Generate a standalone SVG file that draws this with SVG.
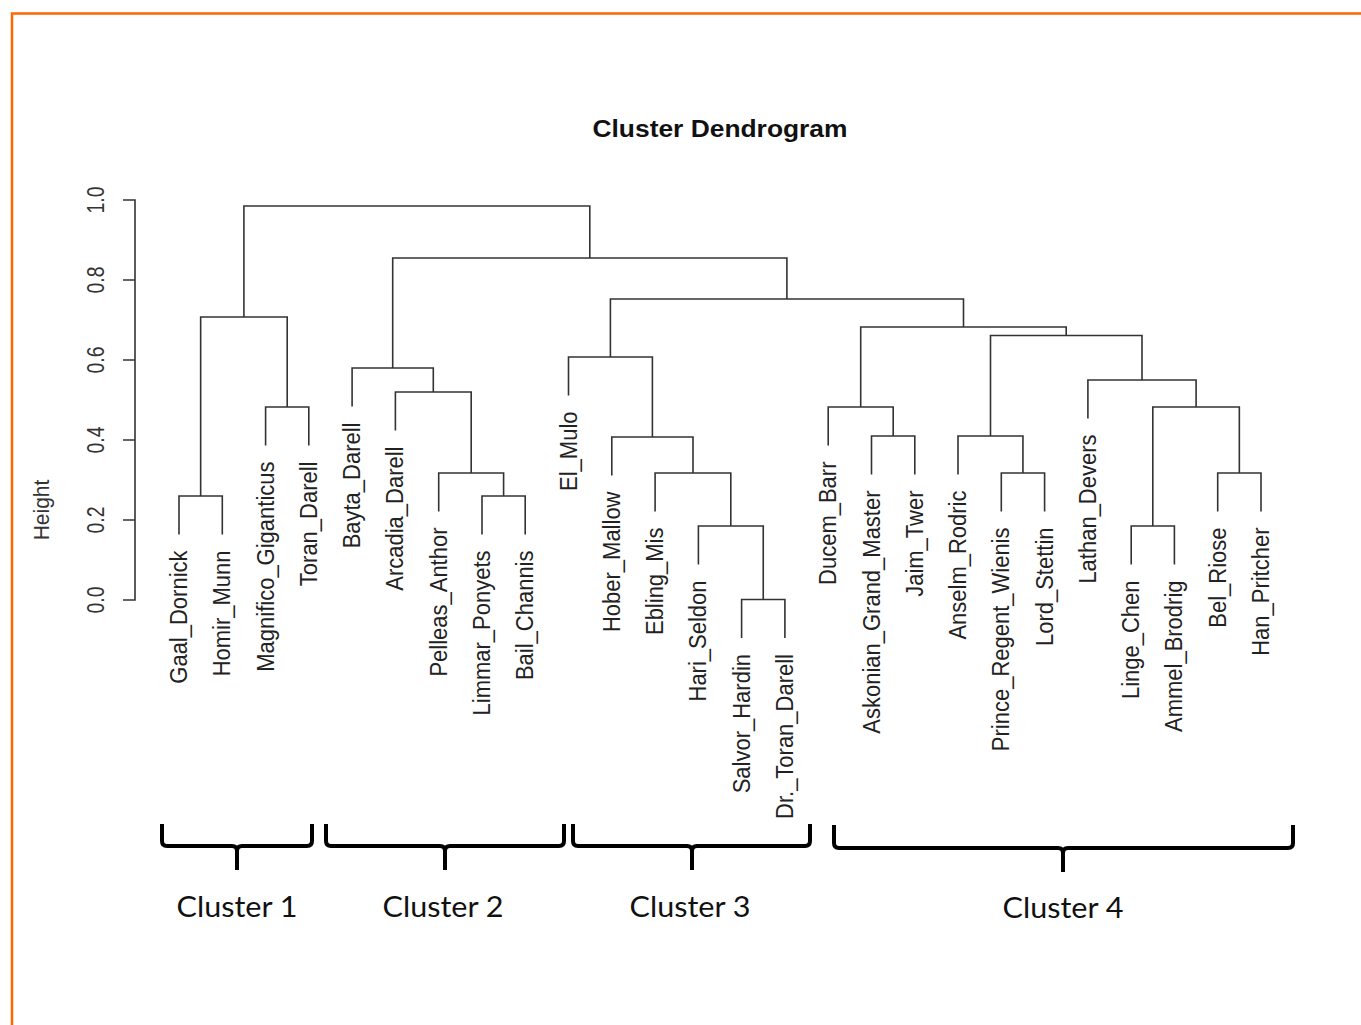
<svg xmlns="http://www.w3.org/2000/svg" width="1361" height="1025" viewBox="0 0 1361 1025">
<style>
.frame{stroke:#FF6600;stroke-width:2.5;fill:none}
.ln{stroke:#333;stroke-width:1.6;fill:none}
.lbl{font-family:"Liberation Sans",Arial,sans-serif;font-size:22px;fill:#222;text-anchor:end}
.tick{font-family:"Liberation Sans",Arial,sans-serif;font-size:19.5px;fill:#333;text-anchor:middle}
.title{font-family:"Liberation Sans",Arial,sans-serif;font-size:23.5px;font-weight:bold;fill:#111;text-anchor:middle}
.brace{stroke:#000;stroke-width:4;fill:none;stroke-linejoin:round}
.cl{font-family:Lato,"Open Sans",sans-serif;font-size:29px;fill:#111;text-anchor:middle}
</style>
<rect width="1361" height="1025" fill="#fff"/>
<path class="frame" d="M12,1025 V13.5 H1361"/>
<text class="title" x="720" y="137" textLength="255" lengthAdjust="spacingAndGlyphs">Cluster Dendrogram</text>
<g id="axis">
<path class="ln" d="M123,200 H135 V600 H123 M123,280 H135 M123,360 H135 M123,440 H135 M123,520 H135"/>
<text class="tick" transform="translate(103.5,200) scale(1.2,1) rotate(-90)">1.0</text>
<text class="tick" transform="translate(103.5,280) scale(1.2,1) rotate(-90)">0.8</text>
<text class="tick" transform="translate(103.5,360) scale(1.2,1) rotate(-90)">0.6</text>
<text class="tick" transform="translate(103.5,440) scale(1.2,1) rotate(-90)">0.4</text>
<text class="tick" transform="translate(103.5,520) scale(1.2,1) rotate(-90)">0.2</text>
<text class="tick" transform="translate(103.5,600) scale(1.2,1) rotate(-90)">0.0</text>
<text class="tick" style="font-size:21px" transform="translate(49,510) scale(1.05,1) rotate(-90)">Height</text>
</g>
<g id="connectors">
<path class="ln" d="M179,534.5 V496 H222.3 V534.5"/>
<path class="ln" d="M265.6,445.5 V407 H308.8 V445.5"/>
<path class="ln" d="M200.65,496 V317 H287.2 V407"/>
<path class="ln" d="M482,534.5 V496 H525.2 V534.5"/>
<path class="ln" d="M438.7,511.5 V473 H503.6 V496"/>
<path class="ln" d="M395.4,430.5 V392 H471.2 V473"/>
<path class="ln" d="M352.1,406.5 V368 H433.3 V392"/>
<path class="ln" d="M741.6,638 V599.5 H784.9 V638"/>
<path class="ln" d="M698.4,564.5 V526 H763.25 V599.5"/>
<path class="ln" d="M655.1,511.5 V473 H730.8 V526"/>
<path class="ln" d="M611.8,475.5 V437 H693 V473"/>
<path class="ln" d="M568.5,395.5 V357 H652.4 V437"/>
<path class="ln" d="M871.5,474.5 V436 H914.8 V474.5"/>
<path class="ln" d="M828.2,445.5 V407 H893.2 V436"/>
<path class="ln" d="M1001.3,511.5 V473 H1044.6 V511.5"/>
<path class="ln" d="M958,474.5 V436 H1022.95 V473"/>
<path class="ln" d="M1131.2,564.5 V526 H1174.4 V564.5"/>
<path class="ln" d="M1217.7,511.5 V473 H1261 V511.5"/>
<path class="ln" d="M1152.8,526 V407 H1239.35 V473"/>
<path class="ln" d="M1087.9,418.5 V380 H1196.1 V407"/>
<path class="ln" d="M990.5,436 V335.5 H1142 V380"/>
<path class="ln" d="M860.7,407 V327 H1066.2 V335.5"/>
<path class="ln" d="M610.4,357 V299 H963.5 V327"/>
<path class="ln" d="M392.7,368 V258 H786.9 V299"/>
<path class="ln" d="M243.9,317 V206 H589.8 V258"/>
</g>
<g id="leaf-gaal-dornick"><text class="lbl" transform="translate(187,550.5) scale(1.1,1) rotate(-90)">Gaal_Dornick</text></g>
<g id="leaf-homir-munn"><text class="lbl" transform="translate(230.3,550.5) scale(1.1,1) rotate(-90)">Homir_Munn</text></g>
<g id="leaf-magnifico-giganticus"><text class="lbl" transform="translate(273.6,461.5) scale(1.1,1) rotate(-90)">Magnifico_Giganticus</text></g>
<g id="leaf-toran-darell"><text class="lbl" transform="translate(316.8,461.5) scale(1.1,1) rotate(-90)">Toran_Darell</text></g>
<g id="leaf-bayta-darell"><text class="lbl" transform="translate(360.1,422.5) scale(1.1,1) rotate(-90)">Bayta_Darell</text></g>
<g id="leaf-arcadia-darell"><text class="lbl" transform="translate(403.4,446.5) scale(1.1,1) rotate(-90)">Arcadia_Darell</text></g>
<g id="leaf-pelleas-anthor"><text class="lbl" transform="translate(446.7,527.5) scale(1.1,1) rotate(-90)">Pelleas_Anthor</text></g>
<g id="leaf-limmar-ponyets"><text class="lbl" transform="translate(490,550.5) scale(1.1,1) rotate(-90)">Limmar_Ponyets</text></g>
<g id="leaf-bail-channis"><text class="lbl" transform="translate(533.2,550.5) scale(1.1,1) rotate(-90)">Bail_Channis</text></g>
<g id="leaf-el-mulo"><text class="lbl" transform="translate(576.5,411.5) scale(1.1,1) rotate(-90)">El_Mulo</text></g>
<g id="leaf-hober-mallow"><text class="lbl" transform="translate(619.8,491.5) scale(1.1,1) rotate(-90)">Hober_Mallow</text></g>
<g id="leaf-ebling-mis"><text class="lbl" transform="translate(663.1,527.5) scale(1.1,1) rotate(-90)">Ebling_Mis</text></g>
<g id="leaf-hari-seldon"><text class="lbl" transform="translate(706.4,580.5) scale(1.1,1) rotate(-90)">Hari_Seldon</text></g>
<g id="leaf-salvor-hardin"><text class="lbl" transform="translate(749.6,654) scale(1.1,1) rotate(-90)">Salvor_Hardin</text></g>
<g id="leaf-dr-toran-darell"><text class="lbl" transform="translate(792.9,654) scale(1.1,1) rotate(-90)">Dr._Toran_Darell</text></g>
<g id="leaf-ducem-barr"><text class="lbl" transform="translate(836.2,461.5) scale(1.1,1) rotate(-90)">Ducem_Barr</text></g>
<g id="leaf-askonian-grand-master"><text class="lbl" transform="translate(879.5,490.5) scale(1.1,1) rotate(-90)">Askonian_Grand_Master</text></g>
<g id="leaf-jaim-twer"><text class="lbl" transform="translate(922.8,490.5) scale(1.1,1) rotate(-90)">Jaim_Twer</text></g>
<g id="leaf-anselm-rodric"><text class="lbl" transform="translate(966,490.5) scale(1.1,1) rotate(-90)">Anselm_Rodric</text></g>
<g id="leaf-prince-regent-wienis"><text class="lbl" transform="translate(1009.3,527.5) scale(1.1,1) rotate(-90)">Prince_Regent_Wienis</text></g>
<g id="leaf-lord-stettin"><text class="lbl" transform="translate(1052.6,527.5) scale(1.1,1) rotate(-90)">Lord_Stettin</text></g>
<g id="leaf-lathan-devers"><text class="lbl" transform="translate(1095.9,434.5) scale(1.1,1) rotate(-90)">Lathan_Devers</text></g>
<g id="leaf-linge-chen"><text class="lbl" transform="translate(1139.2,580.5) scale(1.1,1) rotate(-90)">Linge_Chen</text></g>
<g id="leaf-ammel-brodrig"><text class="lbl" transform="translate(1182.4,580.5) scale(1.1,1) rotate(-90)">Ammel_Brodrig</text></g>
<g id="leaf-bel-riose"><text class="lbl" transform="translate(1225.7,527.5) scale(1.1,1) rotate(-90)">Bel_Riose</text></g>
<g id="leaf-han-pritcher"><text class="lbl" transform="translate(1269,527.5) scale(1.1,1) rotate(-90)">Han_Pritcher</text></g>
<g id="cluster-1">
<path class="brace" d="M162,824 V841 Q162,846 167,846 H232 Q237,846 237,851 V870 M237,851 Q237,846 242,846 H307 Q312,846 312,841 V824"/>
<text class="cl" x="237" y="917" textLength="121" lengthAdjust="spacingAndGlyphs">Cluster 1</text>
</g>
<g id="cluster-2">
<path class="brace" d="M326,824 V841 Q326,846 331,846 H440 Q445,846 445,851 V870 M445,851 Q445,846 450,846 H559 Q564,846 564,841 V824"/>
<text class="cl" x="443" y="917" textLength="121" lengthAdjust="spacingAndGlyphs">Cluster 2</text>
</g>
<g id="cluster-3">
<path class="brace" d="M573,824 V841 Q573,846 578,846 H687 Q692,846 692,851 V870 M692,851 Q692,846 697,846 H805 Q810,846 810,841 V824"/>
<text class="cl" x="690" y="917" textLength="121" lengthAdjust="spacingAndGlyphs">Cluster 3</text>
</g>
<g id="cluster-4">
<path class="brace" d="M834,825 V843 Q834,848 839,848 H1058 Q1063,848 1063,853 V872 M1063,853 Q1063,848 1068,848 H1288 Q1293,848 1293,843 V825"/>
<text class="cl" x="1063" y="918" textLength="121" lengthAdjust="spacingAndGlyphs">Cluster 4</text>
</g>
</svg>
